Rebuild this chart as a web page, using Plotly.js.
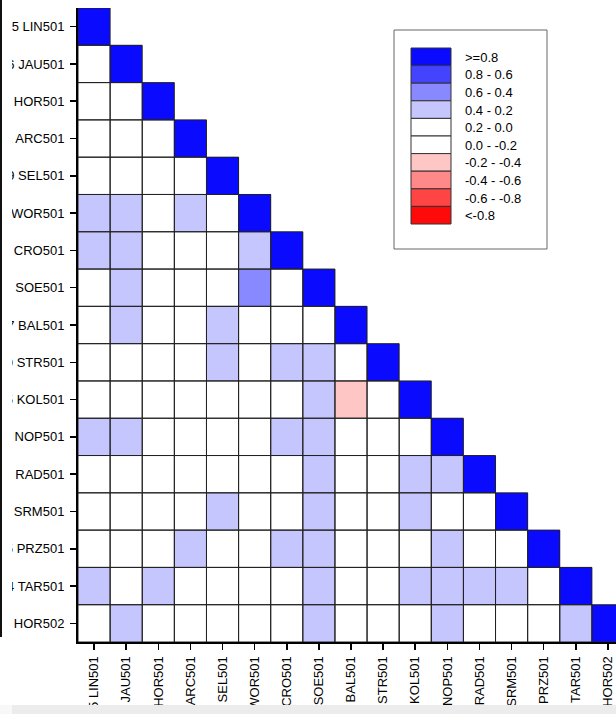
<!DOCTYPE html>
<html>
<head>
<meta charset="utf-8">
<script src="https://cdn.plot.ly/plotly-3.0.1.min.js"></script>
<style>
  html, body { margin: 0; padding: 0; background: #ffffff; overflow: hidden; width: 616px; height: 714px; }
  #chart { position: absolute; left: 0; top: 0; }
  .frame-line { position: absolute; left: 0; top: 0; width: 2px; height: 637px; background: #111; }
  .left-mask { position: absolute; left: 2px; top: 0; width: 10px; height: 650px; background: #ffffff; }
  .bottom-band { position: absolute; left: 0; top: 705px; width: 616px; height: 9px; background: #ececec; }
  .bottom-band-left { position: absolute; left: 0; top: 705px; width: 12px; height: 9px; background: #f8f8f8; }
</style>
</head>
<body>
<div id="chart"></div>
<div class="left-mask"></div>
<div class="frame-line"></div>
<div class="bottom-band"></div>
<div class="bottom-band-left"></div>
<script>
// Station codes and their numeric prefixes (the prefix is clipped at the page edge)
const stations = ['LIN501', 'JAU501', 'HOR501', 'ARC501', 'SEL501', 'WOR501', 'CRO501', 'SOE501',
  'BAL501', 'STR501', 'KOL501', 'NOP501', 'RAD501', 'SRM501', 'PRZ501', 'TAR501', 'HOR502'];
const stationPrefix = ['5', '6', '7', '1', '9', '2', '3', '4', '7', '0', '5', '8', '2', '3', '5', '4', '6'];

// Lower-triangular correlation matrix, one row per station
const corr = [
  [1],
  [0.1, 1],
  [0.1, 0.1, 1],
  [0.1, 0.1, 0.1, 1],
  [0.1, 0.1, 0.1, 0.1, 1],
  [0.3, 0.3, 0.1, 0.3, 0.1, 1],
  [0.3, 0.3, 0.1, 0.1, 0.1, 0.3, 1],
  [0.1, 0.3, 0.1, 0.1, 0.1, 0.5, 0.1, 1],
  [0.1, 0.3, 0.1, 0.1, 0.3, 0.1, 0.1, 0.1, 1],
  [0.1, 0.1, 0.1, 0.1, 0.3, 0.1, 0.3, 0.3, 0.1, 1],
  [0.1, 0.1, 0.1, 0.1, 0.1, 0.1, 0.1, 0.3, -0.3, 0.1, 1],
  [0.3, 0.3, 0.1, 0.1, 0.1, 0.1, 0.3, 0.3, 0.1, 0.1, 0.1, 1],
  [0.1, 0.1, 0.1, 0.1, 0.1, 0.1, 0.1, 0.3, 0.1, 0.1, 0.3, 0.3, 1],
  [0.1, 0.1, 0.1, 0.1, 0.3, 0.1, 0.1, 0.3, 0.1, 0.1, 0.3, 0.1, 0.1, 1],
  [0.1, 0.1, 0.1, 0.3, 0.1, 0.1, 0.3, 0.3, 0.1, 0.1, 0.1, 0.3, 0.1, 0.1, 1],
  [0.3, 0.1, 0.3, 0.1, 0.1, 0.1, 0.1, 0.3, 0.1, 0.1, 0.3, 0.3, 0.3, 0.3, 0.1, 1],
  [0.1, 0.3, 0.1, 0.1, 0.1, 0.1, 0.1, 0.3, 0.1, 0.1, 0.1, 0.3, 0.1, 0.1, 0.1, 0.3, 1]
];

// Class legend, listed from the highest class to the lowest
const classLabels = ['>=0.8', '0.8 - 0.6', '0.6 - 0.4', '0.4 - 0.2', '0.2 - 0.0',
  '0.0 - -0.2', '-0.2 - -0.4', '-0.4 - -0.6', '-0.6 - -0.8', '<-0.8'];
const classColors = ['#0a0aff', '#4444ff', '#8888ff', '#c6c6ff', '#ffffff',
  '#ffffff', '#ffc6c6', '#ff8888', '#ff4444', '#ff0a0a'];

const FONT = '"Liberation Sans", Arial, Helvetica, sans-serif';
const FONT_SIZE = 13;
const tickLabels = stations.map((s, i) => stationPrefix[i] + ' ' + s);
const n = stations.length;

// Full square z (upper triangle left empty)
const z = [];
for (let i = 0; i < n; i++) {
  const row = [];
  for (let j = 0; j < n; j++) row.push(j < corr[i].length ? corr[i][j] : null);
  z.push(row);
}

// Stepped colour scale over [-1, 1], ten equal classes
const ascColors = classColors.slice().reverse();
const colorscale = [];
ascColors.forEach((c, k) => {
  colorscale.push([k / ascColors.length, c]);
  colorscale.push([(k + 1) / ascColors.length, c]);
});

const heat = {
  type: 'heatmap',
  x: tickLabels,
  y: tickLabels,
  z: z,
  zmin: -1,
  zmax: 1,
  colorscale: colorscale,
  showscale: false,
  hoverinfo: 'skip'
};

// Page geometry
const W = 640, H = 730;
const margin = { l: 78, r: 16, t: 8, b: 88 };
const plotW = W - margin.l - margin.r;
const plotH = H - margin.t - margin.b;
const px2paperX = px => (px - margin.l) / plotW;
const px2paperY = py => (margin.t + plotH - py) / plotH;

const shapes = [];
// Cell outlines for the filled triangle
for (let i = 0; i < n; i++) {
  for (let j = 0; j < corr[i].length; j++) {
    shapes.push({
      type: 'rect', xref: 'x', yref: 'y',
      x0: j - 0.5, x1: j + 0.5, y0: i - 0.5, y1: i + 0.5,
      line: { color: '#222222', width: 1 }, fillcolor: 'rgba(0,0,0,0)', layer: 'above'
    });
  }
}

// Legend box with colour swatches
const box = { x0: 394, x1: 547, y0: 30, y1: 249 };
shapes.push({
  type: 'rect', xref: 'paper', yref: 'paper',
  x0: px2paperX(box.x0), x1: px2paperX(box.x1),
  y0: px2paperY(box.y1), y1: px2paperY(box.y0),
  line: { color: '#666666', width: 1 }, fillcolor: '#ffffff', layer: 'above'
});
const sw = { x0: 411, x1: 451, top: 48, h: 17.6 };
const annotations = [];
classLabels.forEach((lab, k) => {
  const top = sw.top + k * sw.h;
  shapes.push({
    type: 'rect', xref: 'paper', yref: 'paper',
    x0: px2paperX(sw.x0), x1: px2paperX(sw.x1),
    y0: px2paperY(top + sw.h), y1: px2paperY(top),
    line: { color: '#333333', width: 1 }, fillcolor: classColors[k], layer: 'above'
  });
  annotations.push({
    xref: 'paper', yref: 'paper',
    x: px2paperX(463), y: px2paperY(top + sw.h / 2 + 0.5),
    xanchor: 'left', yanchor: 'middle', showarrow: false,
    text: lab, font: { family: FONT, size: FONT_SIZE, color: '#000000' }
  });
});

const axisCommon = {
  type: 'category',
  showgrid: false,
  zeroline: false,
  showline: true,
  linecolor: '#000000',
  linewidth: 2,
  ticks: 'outside',
  ticklen: 6,
  tickwidth: 1.5,
  tickcolor: '#000000',
  tickfont: { family: FONT, size: FONT_SIZE, color: '#000000' },
  automargin: false,
  fixedrange: true
};

const layout = {
  width: W,
  height: H,
  margin: margin,
  paper_bgcolor: 'rgba(0,0,0,0)',
  plot_bgcolor: '#ffffff',
  showlegend: false,
  xaxis: Object.assign({}, axisCommon, { tickangle: -90, ticklabelstandoff: 1, range: [-0.5, n - 0.5] }),
  yaxis: Object.assign({}, axisCommon, { ticklabelstandoff: 3, autorange: false, range: [n - 0.5, -0.5] }),
  shapes: shapes,
  annotations: annotations
};

Plotly.newPlot('chart', [heat], layout, { displayModeBar: false, staticPlot: true });
</script>
</body>
</html>
